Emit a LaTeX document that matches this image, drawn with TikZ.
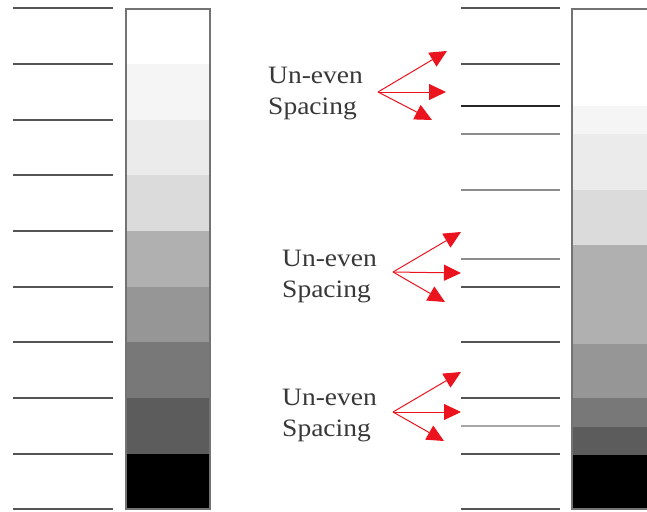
\documentclass[tikz,border=0pt]{standalone}
\usepackage{fontspec}
\setmainfont{Liberation Serif}
\usetikzlibrary{arrows.meta}
\definecolor{tickdark}{gray}{0.33}
\definecolor{ticklight}{gray}{0.55}
\definecolor{tickpale}{gray}{0.65}
\definecolor{tickblack}{gray}{0.15}
\definecolor{barframe}{gray}{0.45}
\definecolor{arrowred}{RGB}{235,20,30}
\begin{document}
\begin{tikzpicture}[x=1pt,y=-1pt,
  tickln/.style={line width=2.4pt,draw=tickdark},
  framebox/.style={draw=barframe,line width=2.2pt},
  lbl/.style={font=\fontsize{25}{31}\selectfont,align=left,anchor=north west,inner sep=0pt,text=black!78,xscale=1.1},
  redarrow/.style={draw=arrowred,line width=1pt,-{Triangle[length=17pt,width=16pt]}},
  ]
\useasboundingbox (0,0) rectangle (647,511);
\begin{scope}
\clip (0,0) rectangle (647,511);
% left bar bands
\foreach \a/\b/\c in {9/64/white,64/120/black!4,120/175/black!8,175/231/black!14,231/287/black!31,287/342/black!41,342/398/black!53,398/454/black!64,454/509/black}
  \fill[\c] (126,\a) rectangle (210,\b);
\draw[framebox] (126,9) rectangle (210,509);
% right bar bands
\foreach \a/\b/\c in {9/106/white,106/134/black!4,134/190/black!8,190/245/black!14,245/344/black!31,344/398/black!41,398/427/black!53,427/455/black!64,455/509/black}
  \fill[\c] (572,\a) rectangle (660,\b);
\draw[framebox] (572,9) rectangle (660,509);
% left ticks
\foreach \y in {8,64,120,175,231,287,342,398,454,509}
  \draw[tickln] (13,\y) -- (113,\y);
% right ticks
\foreach \y/\c in {8/tickdark,64/tickdark,106/tickblack,134/ticklight,190/ticklight,259/ticklight,287/tickdark,342/tickdark,398/tickdark,426/tickpale,454/tickdark,509/tickdark}
  \draw[tickln,draw=\c] (461,\y) -- (560,\y);
\end{scope}
% labels
\node[lbl] (l1) at (268,67) {Un-even\\Spacing};
\node[lbl] (l2) at (282,250) {Un-even\\Spacing};
\node[lbl] (l3) at (282,389) {Un-even\\Spacing};
% arrow origins and tips
\coordinate (o1) at (378,92);
\coordinate (a1) at (447,51);
\coordinate (b1) at (446,92);
\coordinate (c1) at (432,120);
\coordinate (o2) at (393,272);
\coordinate (a2) at (461,232);
\coordinate (b2) at (461,273);
\coordinate (c2) at (445,302);
\coordinate (o3) at (393,412);
\coordinate (a3) at (461,372);
\coordinate (b3) at (461,412);
\coordinate (c3) at (444,441);
\foreach \i in {1,2,3} {
  \draw[redarrow] (o\i) -- (a\i);
  \draw[redarrow] (o\i) -- (b\i);
  \draw[redarrow] (o\i) -- (c\i);
}
\end{tikzpicture}
\end{document}
